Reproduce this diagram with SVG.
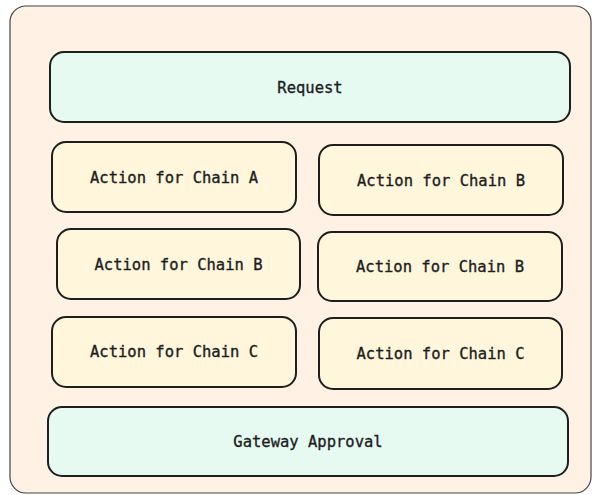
<svg xmlns="http://www.w3.org/2000/svg" width="592" height="495" viewBox="0 0 592 495">
<style>
.frame{fill:#fff2e5;stroke:#444;stroke-width:1.2}
.wide{fill:#e6faf2;stroke:#1e1e1e;stroke-width:2}
.act{fill:#fff6dc;stroke:#1e1e1e;stroke-width:2}
text{font-family:"DejaVu Sans Mono","Liberation Mono",monospace;font-size:15.5px;fill:#1e1e1e;stroke:#1e1e1e;stroke-width:0.35;text-anchor:middle;dominant-baseline:central}
</style>
<rect width="592" height="495" fill="#ffffff"/>
<g id="container"><rect class="frame" x="10" y="6" width="581" height="487" rx="16"/></g>
<g id="request"><rect class="wide" x="50" y="52" width="520" height="70" rx="14"/><text x="310" y="88">Request</text></g>
<g id="actionA"><rect class="act" x="52" y="142" width="244" height="70" rx="14"/><text x="174" y="178">Action for Chain A</text></g>
<g id="actionB1"><rect class="act" x="319" y="145" width="244" height="70" rx="14"/><text x="441" y="181">Action for Chain B</text></g>
<g id="actionB2"><rect class="act" x="57" y="229" width="243" height="70" rx="14"/><text x="178.5" y="265">Action for Chain B</text></g>
<g id="actionB3"><rect class="act" x="318" y="232" width="244" height="69" rx="14"/><text x="440" y="267">Action for Chain B</text></g>
<g id="actionC1"><rect class="act" x="52" y="317" width="244" height="70" rx="14"/><text x="174" y="352">Action for Chain C</text></g>
<g id="actionC2"><rect class="act" x="319" y="318" width="243" height="71" rx="14"/><text x="440.5" y="354">Action for Chain C</text></g>
<g id="gateway"><rect class="wide" x="48" y="407" width="520" height="69" rx="14"/><text x="308" y="442">Gateway Approval</text></g>
<g id="connectors"></g>
</svg>
